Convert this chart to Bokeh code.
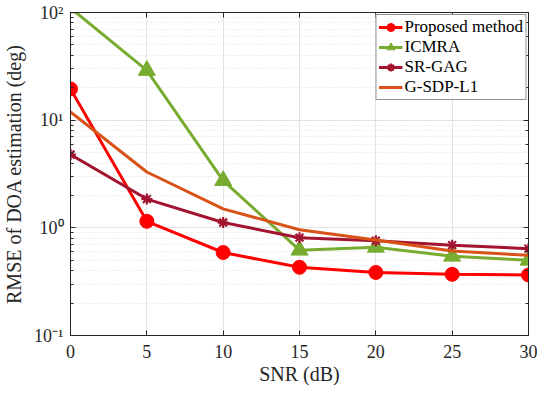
from bokeh.plotting import figure
from bokeh.models import (LinearAxis, LogAxis, FixedTicker, Legend, LegendItem,
                          Range1d, LogTicker)
from bokeh.embed import file_html
from bokeh.resources import INLINE

snr = [0, 5, 10, 15, 20, 25, 30]
proposed = [19.5, 1.15, 0.59, 0.43, 0.385, 0.37, 0.365]
icmra = [110, 29.0, 2.75, 0.62, 0.66, 0.545, 0.50]
sr_gag = [4.8, 1.85, 1.12, 0.81, 0.76, 0.69, 0.64]
g_sdp = [11.9, 3.3, 1.5, 0.96, 0.77, 0.61, 0.555]

x_ticks = [0, 5, 10, 15, 20, 25, 30]
y_tick_labels = {0.1: "10\u207b\u00b9", 1: "10\u2070", 10: "10\u00b9", 100: "10\u00b2"}

FONT = "Liberation Serif"
AX = "#262626"

p = figure(width=537, height=387, y_axis_type="log",
           x_range=Range1d(0, 30), y_range=Range1d(0.1, 100),
           output_backend="svg", toolbar_location=None,
           min_border_left=68, min_border_right=9, min_border_top=12,
           min_border_bottom=50)
p.outline_line_color = AX
p.outline_line_width = 1

# grids
p.xgrid.grid_line_color = "#e3e3e3"
p.ygrid.grid_line_color = "#e3e3e3"
p.ygrid.minor_grid_line_color = "#e3e3e3"
p.ygrid.minor_grid_line_dash = "1 2"
p.xgrid.ticker = FixedTicker(ticks=x_ticks)

# axes
p.xaxis.ticker = FixedTicker(ticks=x_ticks)
for ax in (p.xaxis[0], p.yaxis[0]):
    ax.major_tick_in = 5
    ax.major_tick_out = 0
    ax.minor_tick_in = 3
    ax.minor_tick_out = 0
    ax.axis_line_color = AX
    ax.major_tick_line_color = AX
    ax.minor_tick_line_color = AX
    ax.major_label_text_font = FONT
    ax.major_label_text_font_size = "18px"
    ax.major_label_text_color = AX
    ax.axis_label_text_font = FONT
    ax.axis_label_text_font_size = "20px"
    ax.axis_label_text_font_style = "normal"
    ax.axis_label_text_color = AX
p.yaxis.major_label_overrides = y_tick_labels
p.xaxis.axis_label = "SNR (dB)"
p.yaxis.axis_label = "RMSE of DOA estimation (deg)"
p.xaxis.axis_label_standoff = 2
p.yaxis.axis_label_standoff = 6
p.xaxis.major_label_standoff = 9
p.yaxis.major_label_standoff = 7

top_ax = LinearAxis(ticker=FixedTicker(ticks=x_ticks),
                    major_label_overrides={t: "" for t in x_ticks},
                    major_tick_in=5, major_tick_out=0, axis_line_color=AX,
                    major_tick_line_color=AX)
right_ax = LogAxis(ticker=LogTicker(), major_label_overrides={0.1: "", 1: "", 10: "", 100: ""},
                   major_tick_in=5, major_tick_out=0,
                   minor_tick_in=3, minor_tick_out=0, axis_line_color=AX,
                   major_tick_line_color=AX, minor_tick_line_color=AX)
p.add_layout(top_ax, "above")
p.add_layout(right_ax, "right")

c_prop = "#FF0000"
c_icm = "#77AC30"
c_sr = "#A2142F"
c_gs = "#D95319"

lw = 3
r1l = p.line(snr, proposed, line_color=c_prop, line_width=lw)
r1m = p.scatter(snr, proposed, marker="circle", size=14, fill_color=c_prop, line_color=c_prop)
r2l = p.line(snr, icmra, line_color=c_icm, line_width=lw)
r2m = p.scatter(snr, icmra, marker="triangle", size=17, fill_color=c_icm, line_color=c_icm)
r3l = p.line(snr, sr_gag, line_color=c_sr, line_width=lw)
r3m = p.scatter(snr, sr_gag, marker="asterisk", size=11, line_color=c_sr, line_width=2.2)
r4l = p.line(snr, g_sdp, line_color=c_gs, line_width=lw)

legend = Legend(items=[
    LegendItem(label="Proposed method", renderers=[r1l, r1m]),
    LegendItem(label="ICMRA", renderers=[r2l, r2m]),
    LegendItem(label="SR-GAG", renderers=[r3l, r3m]),
    LegendItem(label="G-SDP-L1", renderers=[r4l]),
], location="top_right")
legend.label_text_font = FONT
legend.label_text_font_size = "17px"
legend.label_text_color = "#000000"
legend.border_line_color = AX
legend.border_line_width = 1
legend.background_fill_alpha = 1
legend.padding = 2
legend.spacing = 0
legend.margin = 2
legend.glyph_width = 24
legend.glyph_height = 20
legend.label_height = 20
legend.label_standoff = 2
p.add_layout(legend)

open("out.html", "w").write(file_html(p, INLINE))
